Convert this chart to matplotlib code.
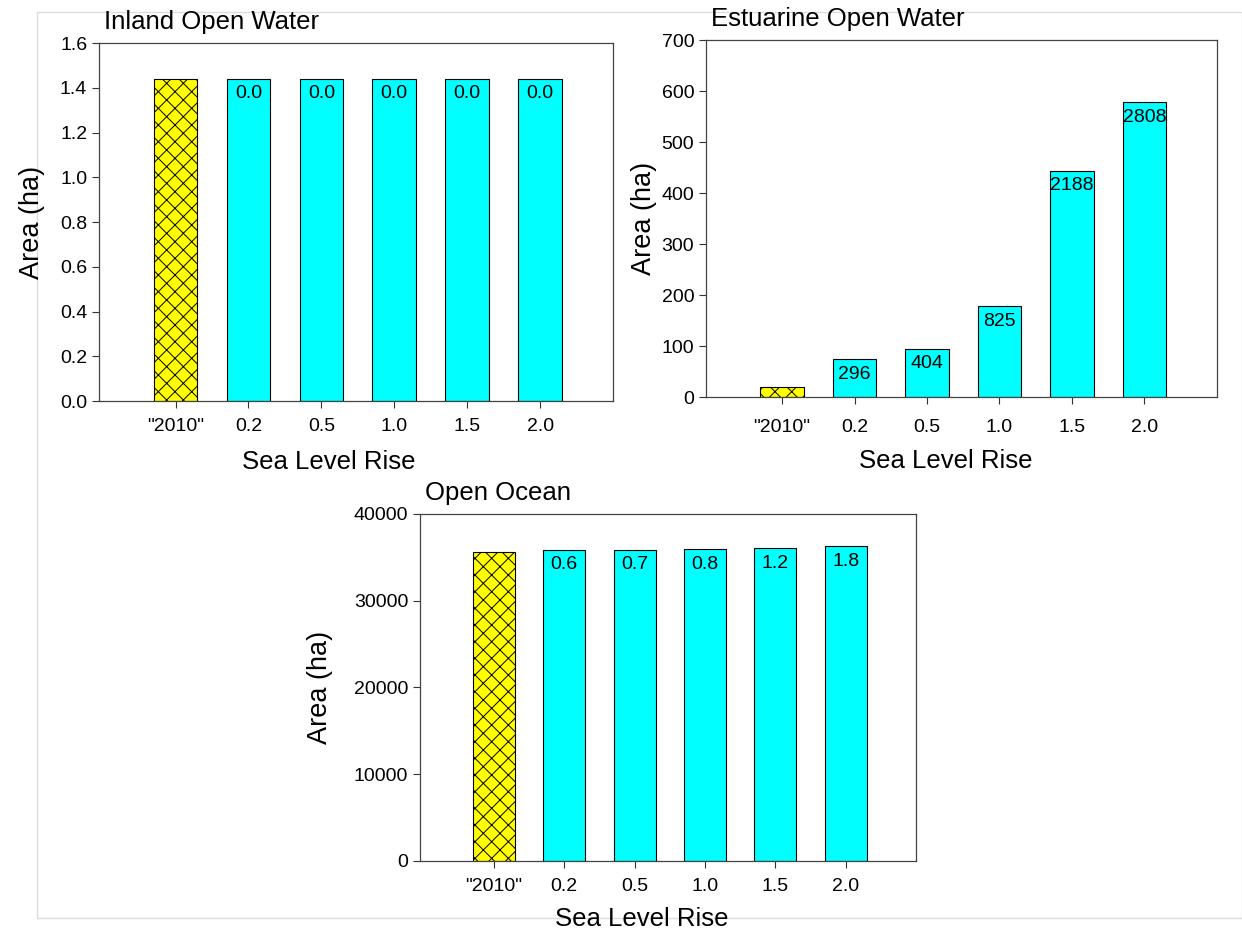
import matplotlib
matplotlib.use("Agg")
import matplotlib.pyplot as plt
from matplotlib.patches import Rectangle

plt.rcParams['font.family'] = ['Liberation Sans', 'DejaVu Sans']
plt.rcParams['hatch.linewidth'] = 0.7

# data
scenarios = ['"2010"', '0.2', '0.5', '1.0', '1.5', '2.0']

inland_area = [1.44, 1.44, 1.44, 1.44, 1.44, 1.44]
inland_labels = ['0.0', '0.0', '0.0', '0.0', '0.0']

estuarine_area = [20, 74, 95, 178, 444, 578]
estuarine_labels = ['296', '404', '825', '2188', '2808']

ocean_area = [35620, 35830, 35870, 35910, 36050, 36260]
ocean_labels = ['0.6', '0.7', '0.8', '1.2', '1.8']

fig = plt.figure(figsize=(12.42, 9.32), dpi=100)
# faint border round the whole chart, kept behind the text
fig.patches.append(Rectangle((37 / 1242, 1 - 918 / 932), 1 - 37 / 1242, (918 - 12) / 932,
                             transform=fig.transFigure, fill=False,
                             edgecolor='#dcdcdc', linewidth=1, zorder=-5))


def draw_panel(rect, title, values, labels, ylim, yticks, ytick_fmt,
               xpad, xlabelpad, xlabel_x, ylabelpad):
    ax = fig.add_axes(rect)
    x = list(range(len(values)))
    # baseline year bar, hatched yellow
    ax.bar(x[0], values[0], width=0.6, color='#ffff00', edgecolor='black',
           linewidth=0.8, hatch='xx')
    bars = ax.bar(x[1:], values[1:], width=0.6, color='#00ffff',
                  edgecolor='black', linewidth=0.8)
    for b, lab in zip(bars, labels):
        ax.annotate(lab, (b.get_x() + b.get_width() / 2, b.get_height()),
                    xytext=(0, -4.5), textcoords='offset points',
                    ha='center', va='top', fontsize=14)
    ax.set_xlim(-1.05, 6.0)
    ax.set_ylim(*ylim)
    ax.set_yticks(yticks)
    ax.set_yticklabels([ytick_fmt.format(v) for v in yticks])
    ax.set_xticks(x)
    ax.set_xticklabels(scenarios)
    ax.tick_params(axis='both', labelsize=14, direction='out', length=5,
                   width=0.8, color='#333333')
    ax.tick_params(axis='x', pad=xpad)
    for s in ax.spines.values():
        s.set_color('#444444')
        s.set_linewidth(0.9)
    ax.set_xlabel('Sea Level Rise', fontsize=18.5, labelpad=xlabelpad, x=xlabel_x)
    ax.set_ylabel('Area (ha)', fontsize=19.5, labelpad=ylabelpad)
    ax.set_title(title, loc='left', fontsize=18.5, pad=10, x=0.01)
    return ax


draw_panel([0.0797, 0.5697, 0.4139, 0.3841], 'Inland Open Water',
           inland_area, inland_labels, (0, 1.6),
           [0.0, 0.2, 0.4, 0.6, 0.8, 1.0, 1.2, 1.4, 1.6], '{:.1f}',
           7, 11, 0.446, 11)

draw_panel([0.5684, 0.574, 0.4114, 0.383], 'Estuarine Open Water',
           estuarine_area, estuarine_labels, (0, 700),
           [0, 100, 200, 300, 400, 500, 600, 700], '{:d}',
           11, 9, 0.469, 3)

draw_panel([0.3382, 0.0762, 0.3994, 0.3723], 'Open Ocean',
           ocean_area, ocean_labels, (0, 40000),
           [0, 10000, 20000, 30000, 40000], '{:d}',
           7, 9, 0.446, 15)

plt.savefig('out.png', dpi=100)
plt.close()
